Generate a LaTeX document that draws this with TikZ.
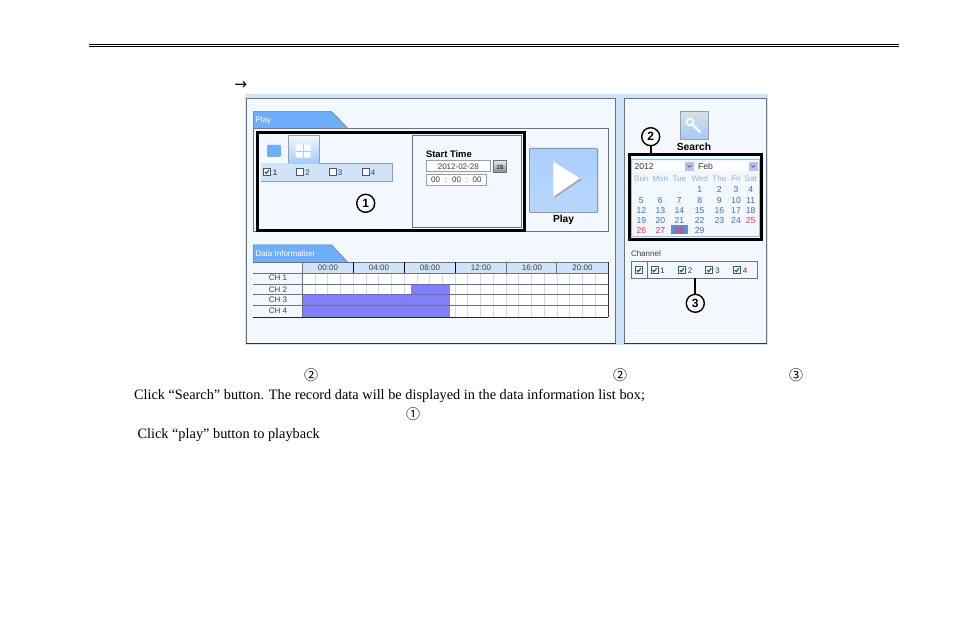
\documentclass[tikz,border=0pt]{standalone}
\usepackage{fontspec}
\setmainfont{Liberation Serif}
\newfontfamily\uifont{Liberation Sans}
\newfontfamily\arrowfont{DejaVu Sans}
\newfontfamily\cjkfont{Noto Sans CJK SC}
\definecolor{pagebg}{HTML}{CFE4F9}
\definecolor{panelbg}{HTML}{F3F7FE}
\definecolor{tabblue}{HTML}{6FAEFB}
\definecolor{edge}{HTML}{6A7480}
\definecolor{strip}{HTML}{CFE4F9}
\definecolor{hourline}{HTML}{DCD2FB}
\definecolor{block}{HTML}{8080FF}
\definecolor{daycol}{HTML}{3F6FC4}
\definecolor{headcol}{HTML}{8FB4DC}
\definecolor{redday}{HTML}{F5304A}
\tikzset{
  every node/.style={inner sep=0pt,outer sep=0pt},
  panel/.style={draw=edge,line width=0.8pt,fill=panelbg},
  grp/.style={draw=edge,line width=0.8pt},
  blackbox/.style={draw=black,line width=3pt},
  marker/.style={circle,draw=black,line width=1.4pt,fill=white,minimum size=18pt,font=\uifont\bfseries\fontsize{12}{12}\selectfont},
  leader/.style={draw=black,line width=2.2pt},
  doc/.style={anchor=base west,font=\fontsize{14.33}{14.33}\selectfont},
  circled/.style={font=\cjkfont\fontsize{14}{14}\selectfont},
  ui/.style={font=\uifont\fontsize{8}{8}\selectfont,text=#1,text height=5.8pt,text depth=0pt},
  ui/.default=black!75,
  tabtext/.style={anchor=west,font=\uifont\fontsize{8}{8}\selectfont,text=white},
  uibold/.style={font=\uifont\bfseries\fontsize{#1}{#1}\selectfont},
  field/.style={draw=edge!70,fill=white,line width=0.6pt},
  calnum/.style={font=\uifont\fontsize{8.6}{8.6}\selectfont,text=#1,text height=6.2pt,text depth=0pt},
}
\newcommand\ckbox[3]{%
  \fill[white,draw=black!60!blue!70,line width=0.6pt] (#1,#2) rectangle ++(7,7);
  \ifnum#3=1 \draw[green!55!black,line width=1.2pt] (#1+1.6,#2+3.6) -- (#1+3,#2+5.2) -- (#1+5.6,#2+1.8);\fi}
\newcommand\combo[2]{%
  \fill[white] (#1,161.7) rectangle (#2,171);
  \fill[black!25!blue!25] (#2-9,161.7) rectangle (#2,171);
  \draw[black!50!blue!60,line width=0.9pt] (#2-6.4,165.2) -- (#2-4.5,167.2) -- (#2-2.6,165.2);}
\begin{document}
\begin{tikzpicture}[x=1pt,y=-1pt]
\useasboundingbox (0,0) rectangle (954,636);
\fill[white] (0,0) rectangle (954,636);
% top rule
\draw[black,line width=1.1pt] (89,44.6) -- (899,44.6);
\draw[black,line width=0.5pt] (89,46.6) -- (899,46.6);
\node[font=\arrowfont\fontsize{15}{15}\selectfont] (arrowglyph) at (241,85.5) {→};
% screenshot background
\fill[pagebg] (245,94) rectangle (768,345.5);
\filldraw[panel] (246,98.3) rectangle (615.5,343);
\filldraw[panel] (624,98.3) rectangle (766.7,343);
\draw[black!80,line width=0.8pt] (246,343) -- (615.5,343) (624,343) -- (766.7,343);
% Play group
\draw[grp] (253.3,231) -- (253.3,128.3) -- (608.3,128.3) -- (608.3,231) -- cycle;
\filldraw[fill=tabblue,draw=edge,line width=0.5pt] (253.3,128.3) -- (253.3,111.7) -- (331.7,111.7) -- (347.7,128.3) -- cycle;
\node[tabtext] (playtab) at (255.5,120.5) {Play};
% view tabs
\fill[strip] (260.7,163.3) rectangle (392.7,181.7);
\draw[edge!70,line width=0.5pt] (260.7,181.7) -- (392.7,181.7) -- (392.7,163.3) -- (319.3,163.3);
\shade[top color=panelbg,bottom color=tabblue!65!white] (288.3,135.7) rectangle (319.3,163.3);
\draw[edge!70,line width=0.5pt] (288.3,163.3) -- (288.3,135.7) -- (319.3,135.7) -- (319.3,163.3);
\fill[tabblue,rounded corners=1pt] (267,145) rectangle (281,157);
\fill[white,rounded corners=1pt] (295.7,144.3) rectangle (310.7,157.7);
\draw[tabblue!60,line width=0.6pt] (303.2,144.3) -- (303.2,157.7) (295.7,151) -- (310.7,151);
\ckbox{263.3}{168.3}{1}
\ckbox{296.7}{168.3}{0}
\ckbox{329.3}{168.3}{0}
\ckbox{362.3}{168.3}{0}
\node[ui=purple!50!black] (v1) at (275,172.3) {1};
\node[ui] (v2) at (307.5,172.3) {2};
\node[ui] (v3) at (340,172.3) {3};
\node[ui] (v4) at (373,172.3) {4};
% start time
\draw[grp] (412.3,135.7) rectangle (521.7,227.3);
\node[uibold=9.4,anchor=west] (starttime) at (426,154.5) {Start Time};
\filldraw[field] (426,160.7) rectangle (490.7,171.7);
\node[ui] (datefield) at (458.3,166.3) {2012-02-28};
\shade[top color=black!10,bottom color=black!45,draw=edge,line width=0.5pt] (493.3,160.7) rectangle (506.7,172.3);
\node[font=\uifont\fontsize{6}{6}\selectfont] (calbtn) at (500,167) {28};
\filldraw[field] (426,174.3) rectangle (486.7,185);
\node[ui] (hh) at (435.5,179.8) {00};
\node[ui] (m1) at (446,179.8) {:};
\node[ui] (mm) at (456.5,179.8) {00};
\node[ui] (m2) at (467,179.8) {:};
\node[ui] (ss) at (477,179.8) {00};
% selection 1
\node[blackbox,minimum width=266.6pt,minimum height=97.7pt] (box1) at (391,181.2) {};
\node[marker] (c1) at (365.7,203.3) {1};
% play button
\shade[top color=panelbg!45!tabblue,middle color=tabblue!90!white,bottom color=tabblue!50!white,rounded corners=2pt,draw=edge,line width=0.6pt] (529.3,148.3) rectangle (597.7,212.7);
\fill[black!35] (554.5,163) -- (582,179.5) -- (554.5,198) -- cycle;
\fill[white] (553.3,161.7) -- (580,178.3) -- (553.3,196.7) -- cycle;
\node[uibold=10.2] (playlbl) at (563.5,220) {Play};
% Data information
\filldraw[fill=tabblue,draw=edge,line width=0.5pt] (253.3,262.3) -- (253.3,245) -- (331.7,245) -- (347.7,262.3) -- cycle;
\node[tabtext] (datatab) at (255.5,254) {Data Information};
\fill[strip] (302.3,262.3) rectangle (607.7,273.3);
\fill[white] (302.3,273.3) rectangle (608.3,317.3);
\foreach \i in {1,...,23} \draw[hourline,line width=0.7pt] ({302.3+\i*12.73},273.3) -- ({302.3+\i*12.73},317.3);
\fill[block] (410.7,284.3) rectangle (450,294.7);
\fill[block] (302.3,294.7) rectangle (450,317.3);
\foreach \y in {262.3,273.3,284.3,294.7,305.3} \draw[edge,line width=0.7pt] (253.3,\y) -- (608.3,\y);
\draw[black!85,line width=0.8pt] (253.3,317.3) -- (608.3,317.3);
\draw[edge,line width=0.7pt] (302.3,262.3) -- (302.3,317.3);
\draw[black,line width=0.7pt] (353.3,262.3) -- (353.3,273.3) (404.3,262.3) -- (404.3,273.3) (455.3,262.3) -- (455.3,273.3);
\draw[edge,line width=0.7pt] (506.3,262.3) -- (506.3,273.3) (556.7,262.3) -- (556.7,273.3);
\draw[black!80,line width=0.8pt] (608,262.3) -- (608,317.3);
\foreach \x/\t/\n in {328/00:00/ha,379/04:00/hb,430/08:00/hc,481/12:00/hd,532/16:00/he,582.5/20:00/hf}
  \node[ui,name=\n] at (\x,268) {\t};
\foreach \y/\t/\n in {278/CH 1/ra,289.2/CH 2/rb,300/CH 3/rc,311/CH 4/rd}
  \node[ui,name=\n] at (278,\y) {\t};
% Search
\shade[top color=panelbg!90!black,bottom color=tabblue!65!white,draw=edge!70,line width=0.6pt] (680,111.7) rectangle (708.3,139);
\draw[white,line width=1.6pt] (690,122) circle (3.4);
\draw[white,line width=2.2pt,line cap=round] (693,125) -- (700,132);
\node[uibold=10.3] (searchlbl) at (694,147.3) {Search};
% Calendar
\filldraw[fill=panelbg,draw=tabblue!80,line width=0.8pt] (631.7,159.3) rectangle (759.3,236);
\combo{632.7}{694}
\combo{695.7}{757.7}
\node[calnum=black!80,anchor=west] (yr) at (634.5,166.5) {2012};
\node[calnum=black!80,anchor=west] (mo) at (698,166.5) {Feb};
\fill[daycol!80!white] (671,225.3) rectangle (688,234.3);
\foreach \x/\t/\n in {641.3/Sun/da,660.3/Mon/db,679.3/Tue/dc,699.7/Wed/dd,719.3/Thu/de,736/Fri/df,750.7/Sat/dg}
  \node[ui=headcol,name=\n] at (\x,179) {\t};
\foreach \x/\y/\t in {
  699.7/189.7/1,719.3/189.7/2,736/189.7/3,750.7/189.7/4,
  641.3/200/5,660.3/200/6,679.3/200/7,699.7/200/8,719.3/200/9,736/200/10,750.7/200/11,
  641.3/210/12,660.3/210/13,679.3/210/14,699.7/210/15,719.3/210/16,736/210/17,750.7/210/18,
  641.3/220/19,660.3/220/20,679.3/220/21,699.7/220/22,719.3/220/23,736/220/24,
  699.7/230/29}
  \node[calnum=daycol,name=n\t] at (\x,\y) {\t};
\foreach \x/\y/\t in {750.7/220/25,641.3/230/26,660.3/230/27,679.3/230/28}
  \node[calnum=redday,name=n\t] at (\x,\y) {\t};
\node[blackbox,minimum width=132.7pt,minimum height=85pt] (box2) at (695.35,197.5) {};
\node[marker] (c2) at (650.7,136.7) {2};
\draw[leader] (c2.south) -- (c2.south |- box2.north);
% Channel
\node[ui,anchor=west] (chlabel) at (631,253.5) {Channel};
\node[grp,minimum width=126.7pt,minimum height=16.6pt] (chbox) at (694.35,270) {};
\draw[grp] (647.3,261.7) -- (647.3,278.3);
\ckbox{635.3}{266.5}{1}
\ckbox{651}{266.5}{1}
\ckbox{678.3}{266.5}{1}
\ckbox{705.7}{266.5}{1}
\ckbox{733.3}{266.5}{1}
\node[ui] (cha) at (662.7,270.3) {1};
\node[ui] (chb) at (690,270.3) {2};
\node[ui] (chc) at (717.7,270.3) {3};
\node[ui] (chd) at (745,270.3) {4};
\node[marker] (c3) at (695.3,303.3) {3};
\draw[leader] (c3.north) -- (c3.north |- chbox.south);
\draw[white,line width=0.8pt] (629,330) -- (758,330);
% document text
\node[circled] (t2a) at (311,375.5) {②};
\node[circled] (t2b) at (620,375.5) {②};
\node[circled] (t3) at (796,375.5) {③};
\node[doc] (search) at (134,399.3) {Click “Search” button. The record data will be displayed in the data information list box;};
\node[circled] (t1) at (413,414) {①};
\node[doc] (playline) at (137.5,438.3) {Click “play” button to playback};
\end{tikzpicture}
\end{document}
